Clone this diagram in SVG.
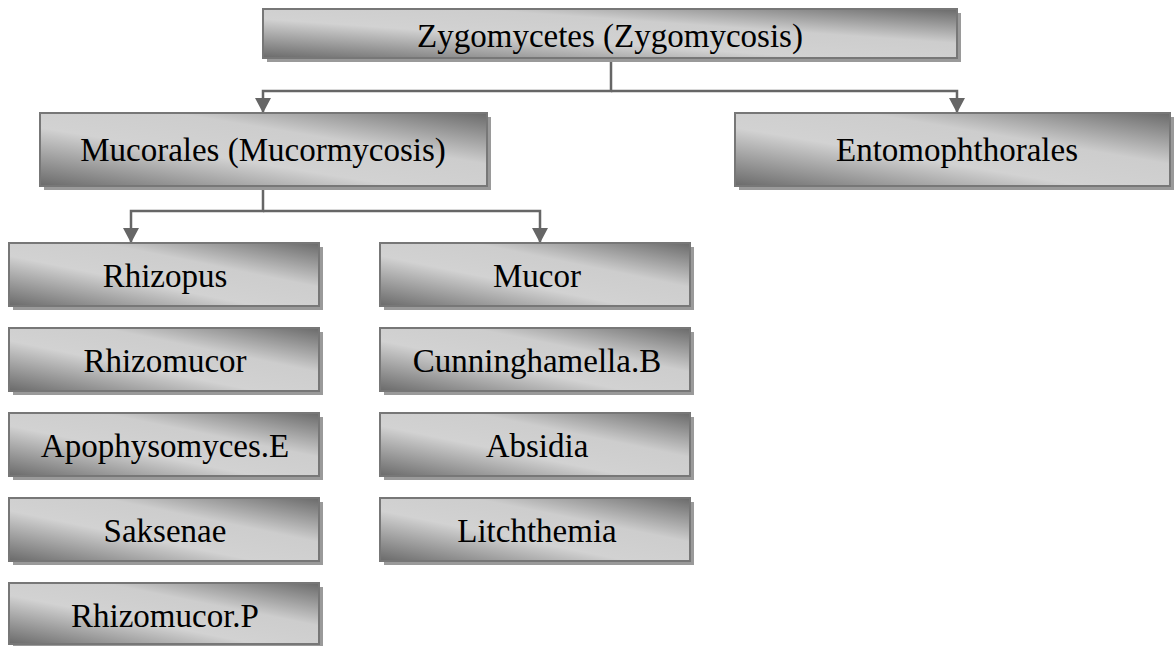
<svg xmlns="http://www.w3.org/2000/svg" width="1174" height="646" viewBox="0 0 1174 646" font-family="'Liberation Serif', 'DejaVu Serif', 'Noto Serif', serif">
<defs>
<linearGradient id="g" x1="0" y1="1" x2="1" y2="0">
<stop offset="0" stop-color="#6a6a6a"/>
<stop offset="0.4" stop-color="#d2d2d2"/>
<stop offset="0.65" stop-color="#cdcdcd"/>
<stop offset="1" stop-color="#6a6a6a"/>
</linearGradient>
<marker id="ah" markerWidth="16" markerHeight="16" refX="15" refY="8" orient="auto" markerUnits="userSpaceOnUse" viewBox="0 0 16 16">
<path d="M0,0 L15,8 L0,16 Z" fill="#666"/>
</marker>
<style>
.shadow{fill:#9a9a9a}
.box{fill:url(#g);stroke:#777;stroke-width:2}
.t{font-size:33px;fill:#000;text-anchor:middle}
.c{fill:none;stroke:#666;stroke-width:2.5}
</style>
</defs>
<g id="connectors">
<path class="c" d="M611,58 V91 H263 V113" marker-end="url(#ah)"/>
<path class="c" d="M611,91 H957 V113" marker-end="url(#ah)"/>
<path class="c" d="M263,187 V211 H131 V243" marker-end="url(#ah)"/>
<path class="c" d="M263,211 H540 V243" marker-end="url(#ah)"/>
</g>
<g id="n-zygo"><rect class="shadow" x="267" y="13" width="694" height="49"/><rect class="box" x="263" y="9" width="694" height="49"/><text class="t" x="610" y="47">Zygomycetes (Zygomycosis)</text></g>
<g id="n-mucorales"><rect class="shadow" x="44" y="117" width="447" height="73"/><rect class="box" x="40" y="113" width="447" height="73"/><text class="t" x="263" y="161">Mucorales (Mucormycosis)</text></g>
<g id="n-ento"><rect class="shadow" x="739" y="117" width="435" height="73"/><rect class="box" x="735" y="113" width="435" height="73"/><text class="t" x="957" y="161">Entomophthorales</text></g>
<g id="n-rhizopus"><rect class="shadow" x="13" y="247" width="310" height="63"/><rect class="box" x="9" y="243" width="310" height="63"/><text class="t" x="165" y="287">Rhizopus</text></g>
<g id="n-rhizomucor"><rect class="shadow" x="13" y="332" width="310" height="63"/><rect class="box" x="9" y="328" width="310" height="63"/><text class="t" x="165" y="372">Rhizomucor</text></g>
<g id="n-apophy"><rect class="shadow" x="13" y="417" width="310" height="63"/><rect class="box" x="9" y="413" width="310" height="63"/><text class="t" x="165" y="457">Apophysomyces.E</text></g>
<g id="n-saksenae"><rect class="shadow" x="13" y="502" width="310" height="63"/><rect class="box" x="9" y="498" width="310" height="63"/><text class="t" x="165" y="542">Saksenae</text></g>
<g id="n-rhizomucorp"><rect class="shadow" x="13" y="587" width="310" height="63"/><rect class="box" x="9" y="583" width="310" height="61"/><text class="t" x="165" y="627">Rhizomucor.P</text></g>
<g id="n-mucor"><rect class="shadow" x="384" y="247" width="310" height="63"/><rect class="box" x="380" y="243" width="310" height="63"/><text class="t" x="537" y="287">Mucor</text></g>
<g id="n-cunning"><rect class="shadow" x="384" y="332" width="310" height="63"/><rect class="box" x="380" y="328" width="310" height="63"/><text class="t" x="537" y="372">Cunninghamella.B</text></g>
<g id="n-absidia"><rect class="shadow" x="384" y="417" width="310" height="63"/><rect class="box" x="380" y="413" width="310" height="63"/><text class="t" x="537" y="457">Absidia</text></g>
<g id="n-litch"><rect class="shadow" x="384" y="502" width="310" height="63"/><rect class="box" x="380" y="498" width="310" height="63"/><text class="t" x="537" y="542">Litchthemia</text></g>
</svg>
